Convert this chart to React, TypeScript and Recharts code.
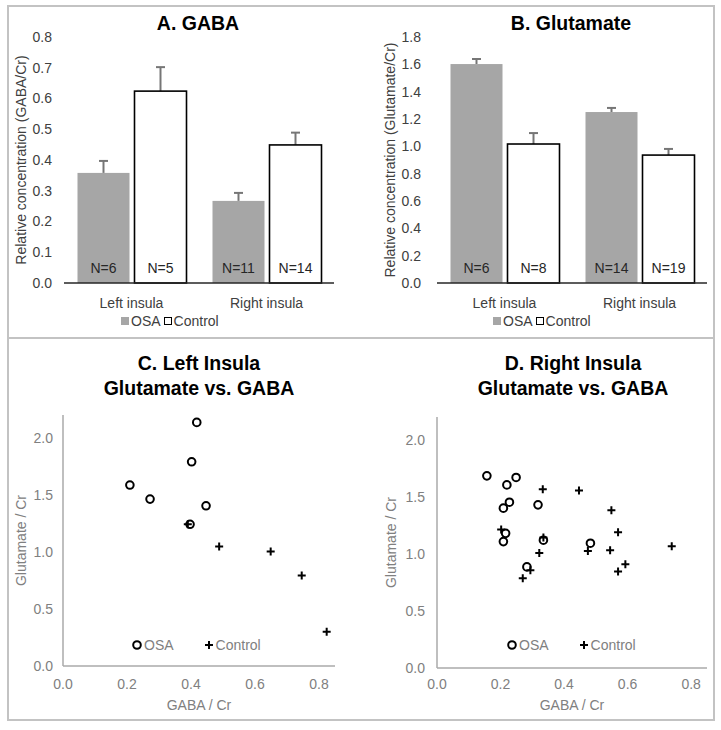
import {
  BarChart,
  Bar,
  XAxis,
  YAxis,
  LabelList,
  Legend,
  ScatterChart,
  Scatter,
} from "recharts";

const FONT = '"Liberation Sans", Arial, Helvetica, sans-serif';
const OSA_GRAY = "#a6a6a6";
const ERR_GRAY = "#767676";
const DARK_TEXT = "#404040";
const LIGHT_TEXT = "#808080";
const FRAME = "#c3c3c3";

// bar charts (A, B)
const regions = ["Left insula", "Right insula"];
const groups = ["OSA", "Control"];

const gabaOsa = [0.358, 0.267];
const gabaOsaErr = [0.039, 0.026];
const gabaOsaN = [6, 11];
const gabaCtl = [0.624, 0.449];
const gabaCtlErr = [0.078, 0.04];
const gabaCtlN = [5, 14];
const gabaTicks = [0, 0.1, 0.2, 0.3, 0.4, 0.5, 0.6, 0.7, 0.8];

const gluOsa = [1.602, 1.251];
const gluOsaErr = [0.037, 0.03];
const gluOsaN = [6, 14];
const gluCtl = [1.017, 0.936];
const gluCtlErr = [0.08, 0.045];
const gluCtlN = [8, 19];
const gluTicks = [0, 0.2, 0.4, 0.6, 0.8, 1.0, 1.2, 1.4, 1.6, 1.8];

// scatter plots (C, D)
const leftOsaGaba = [0.418, 0.402, 0.209, 0.272, 0.447, 0.397];
const leftOsaGlu = [2.135, 1.79, 1.586, 1.463, 1.404, 1.242];
const leftCtlGaba = [0.39, 0.488, 0.649, 0.746, 0.824];
const leftCtlGlu = [1.242, 1.048, 1.004, 0.793, 0.3];

const rightOsaGaba = [0.157, 0.249, 0.22, 0.228, 0.209, 0.318, 0.216, 0.209, 0.335, 0.283, 0.483];
const rightOsaGlu = [1.684, 1.67, 1.605, 1.453, 1.401, 1.43, 1.18, 1.108, 1.12, 0.886, 1.094];
const rightCtlGaba = [0.333, 0.447, 0.549, 0.57, 0.739, 0.202, 0.545, 0.475, 0.322, 0.335, 0.593, 0.57, 0.294, 0.27];
const rightCtlGlu = [1.567, 1.556, 1.383, 1.19, 1.067, 1.213, 1.032, 1.026, 1.009, 1.143, 0.91, 0.845, 0.857, 0.787];

const scatterX = [0, 0.2, 0.4, 0.6, 0.8];
const scatterY = [0, 0.5, 1.0, 1.5, 2.0];

const fmt1 = (v: number) => v.toFixed(1);

const toBars = (osa: number[], osaErr: number[], osaN: number[], ctl: number[], ctlErr: number[], ctlN: number[]) =>
  regions.map((r, i) => ({
    region: r,
    osa: osa[i],
    osaErr: osaErr[i],
    osaN: osaN[i],
    ctl: ctl[i],
    ctlErr: ctlErr[i],
    ctlN: ctlN[i],
  }));

const toPoints = (xs: number[], ys: number[]) => xs.map((x, i) => ({ x, y: ys[i] }));

// legend keeps the series order (recharts sorts by name otherwise)
const ordered = (payload: any[] = []) =>
  [...payload].sort((a, b) => groups.indexOf(a.value) - groups.indexOf(b.value));

// bar with a one-sided (upper) error whisker
const barShape = (fill: string, stroke: string | null, valueKey: string, errKey: string) => (props: any) => {
  const { x, y, width, height, payload } = props;
  const v = payload[valueKey];
  const len = v ? (height / v) * payload[errKey] : 0;
  const cx = x + width / 2;
  return (
    <g>
      <line x1={cx} x2={cx} y1={y} y2={y - len} stroke={ERR_GRAY} strokeWidth={2} />
      <line x1={cx - 4.5} x2={cx + 4.5} y1={y - len} y2={y - len} stroke={ERR_GRAY} strokeWidth={2} />
      <rect
        x={x}
        y={y}
        width={width}
        height={height}
        fill={fill}
        stroke={stroke || "none"}
        strokeWidth={stroke ? 1.6 : 0}
      />
    </g>
  );
};

const circleShape = (props: any) => (
  <circle cx={props.cx} cy={props.cy} r={3.8} fill="none" stroke="#000" strokeWidth={2} />
);

const plusShape = (props: any) => (
  <path
    d={`M${props.cx - 4},${props.cy}H${props.cx + 4}M${props.cx},${props.cy - 4}V${props.cy + 4}`}
    stroke="#000"
    strokeWidth={2}
  />
);

const BarLegend = ({ payload }: any) => (
  <div style={{ display: "flex", alignItems: "center", fontSize: 14, color: DARK_TEXT, fontFamily: FONT }}>
    {ordered(payload).map((p: any) => (
      <span key={p.value} style={{ display: "flex", alignItems: "center", marginRight: 3 }}>
        <span
          style={{
            display: "inline-block",
            width: 8,
            height: 8,
            boxSizing: "border-box",
            background: p.value === "OSA" ? OSA_GRAY : "#fff",
            border: p.value === "OSA" ? "none" : "1.5px solid #000",
            marginRight: 2,
          }}
        />
        {p.value}
      </span>
    ))}
  </div>
);

const ScatterLegend = ({ payload }: any) => (
  <div style={{ display: "flex", alignItems: "center", fontSize: 14, color: LIGHT_TEXT, fontFamily: FONT }}>
    {ordered(payload).map((p: any) => (
      <span key={p.value} style={{ display: "flex", alignItems: "center", marginRight: 30 }}>
        <svg width={10} height={10} style={{ marginRight: 2 }}>
          {p.value === "OSA" ? (
            <circle cx={5} cy={5} r={3.8} fill="none" stroke="#000" strokeWidth={2} />
          ) : (
            <path d="M1,5H9M5,1V9" stroke="#000" strokeWidth={2} />
          )}
        </svg>
        {p.value}
      </span>
    ))}
  </div>
);

function GroupBars(props: {
  data: any[];
  ticks: number[];
  width: number;
  yWidth: number;
  yMargin: number;
  labelDx: number;
  rightMargin: number;
  yLabel: string;
  legendLeft: number;
}) {
  const { data, ticks } = props;
  return (
    <BarChart
      width={props.width}
      height={340}
      data={data}
      margin={{ top: 37, right: props.rightMargin, bottom: 0, left: 0 }}
      barCategoryGap="10%"
      barGap={5}
    >
      <XAxis
        dataKey="region"
        height={57}
        tickLine={false}
        tickMargin={9}
        axisLine={{ stroke: "#262626", strokeWidth: 1.5 }}
        tick={{ fill: DARK_TEXT, fontSize: 14 }}
      />
      <YAxis
        type="number"
        domain={[0, ticks[ticks.length - 1]]}
        ticks={ticks}
        tickFormatter={fmt1}
        width={props.yWidth}
        axisLine={false}
        tickLine={false}
        tickMargin={props.yMargin}
        tick={{ fill: DARK_TEXT, fontSize: 14 }}
        label={{
          value: props.yLabel,
          angle: -90,
          position: "center",
          dx: props.labelDx,
          fill: DARK_TEXT,
          fontSize: 14,
        }}
      />
      <Bar dataKey="osa" name="OSA" isAnimationActive={false} shape={barShape(OSA_GRAY, null, "osa", "osaErr")}>
        <LabelList
          dataKey="osaN"
          position="insideBottom"
          offset={10}
          formatter={(v: any) => `N=${v}`}
          fill="#262626"
          fontSize={14}
        />
      </Bar>
      <Bar dataKey="ctl" name="Control" isAnimationActive={false} shape={barShape("#fff", "#000", "ctl", "ctlErr")}>
        <LabelList
          dataKey="ctlN"
          position="insideBottom"
          offset={10}
          formatter={(v: any) => `N=${v}`}
          fill="#262626"
          fontSize={14}
        />
      </Bar>
      <Legend
        layout="horizontal"
        verticalAlign="middle"
        align="center"
        content={BarLegend}
        wrapperStyle={{ top: 313, left: props.legendLeft, width: "auto" }}
      />
    </BarChart>
  );
}

function GabaGluScatter(props: {
  osa: { x: number; y: number }[];
  ctl: { x: number; y: number }[];
  width: number;
  top: number;
  rightMargin: number;
  yWidth: number;
  yMargin: number;
  xMargin: number;
  xHeight: number;
  labelDx: number;
  legendLeft: number;
}) {
  return (
    <ScatterChart
      width={props.width}
      height={380}
      margin={{ top: props.top, right: props.rightMargin, bottom: 0, left: 0 }}
    >
      <XAxis
        type="number"
        dataKey="x"
        domain={[0, 0.85]}
        ticks={scatterX}
        tickFormatter={fmt1}
        height={props.xHeight}
        tickLine={false}
        tickMargin={props.xMargin}
        axisLine={{ stroke: "#aaaaaa", strokeWidth: 1.5 }}
        tick={{ fill: LIGHT_TEXT, fontSize: 14 }}
        label={{ value: "GABA / Cr", position: "insideBottom", offset: 10, fill: LIGHT_TEXT, fontSize: 14 }}
      />
      <YAxis
        type="number"
        dataKey="y"
        domain={[0, 2.2]}
        ticks={scatterY}
        tickFormatter={fmt1}
        width={props.yWidth}
        tickLine={false}
        tickMargin={props.yMargin}
        axisLine={{ stroke: "#aaaaaa", strokeWidth: 1.5 }}
        tick={{ fill: LIGHT_TEXT, fontSize: 14 }}
        label={{
          value: "Glutamate / Cr",
          angle: -90,
          position: "center",
          dx: props.labelDx,
          fill: LIGHT_TEXT,
          fontSize: 14,
        }}
      />
      <Scatter name="OSA" data={props.osa} shape={circleShape} isAnimationActive={false} />
      <Scatter name="Control" data={props.ctl} shape={plusShape} isAnimationActive={false} />
      <Legend
        layout="horizontal"
        verticalAlign="middle"
        align="center"
        content={ScatterLegend}
        wrapperStyle={{ top: 297, left: props.legendLeft, width: "auto" }}
      />
    </ScatterChart>
  );
}

const titleStyle = (cx: number, top: number, size: number): any => ({
  position: "absolute",
  left: cx - 160,
  width: 320,
  top,
  textAlign: "center",
  fontSize: size,
  lineHeight: "25px",
  fontWeight: "bold",
  color: "#000",
});

export default function App() {
  return (
    <div
      style={{
        position: "absolute",
        left: 0,
        top: 0,
        width: 721,
        height: 730,
        background: "#fff",
        fontFamily: FONT,
      }}
    >
      <div
        style={{
          position: "absolute",
          left: 7,
          top: 5,
          width: 708,
          height: 716,
          border: `2px solid ${FRAME}`,
          boxSizing: "border-box",
        }}
      />
      <div style={{ position: "absolute", left: 7, top: 337, width: 708, height: 2, background: FRAME }} />

      <div style={{ position: "absolute", left: 0, top: 0 }}>
        <GroupBars
          data={toBars(gabaOsa, gabaOsaErr, gabaOsaN, gabaCtl, gabaCtlErr, gabaCtlN)}
          ticks={gabaTicks}
          width={360}
          yWidth={64}
          yMargin={6}
          labelDx={-11}
          rightMargin={26}
          yLabel="Relative concentration (GABA/Cr)"
          legendLeft={121}
        />
      </div>
      <div style={{ position: "absolute", left: 360, top: 0 }}>
        <GroupBars
          data={toBars(gluOsa, gluOsaErr, gluOsaN, gluCtl, gluCtlErr, gluCtlN)}
          ticks={gluTicks}
          width={361}
          yWidth={77}
          yMargin={10}
          labelDx={-8}
          rightMargin={14}
          yLabel="Relative concentration (Glutamate/Cr)"
          legendLeft={133}
        />
      </div>
      <div style={{ position: "absolute", left: 0, top: 340 }}>
        <GabaGluScatter
          osa={toPoints(leftOsaGaba, leftOsaGlu)}
          ctl={toPoints(leftCtlGaba, leftCtlGlu)}
          width={360}
          top={75}
          rightMargin={25}
          yWidth={63}
          yMargin={4}
          xMargin={7}
          xHeight={54}
          labelDx={-10}
          legendLeft={132}
        />
      </div>
      <div style={{ position: "absolute", left: 360, top: 340 }}>
        <GabaGluScatter
          osa={toPoints(rightOsaGaba, rightOsaGlu)}
          ctl={toPoints(rightCtlGaba, rightCtlGlu)}
          width={361}
          top={77}
          rightMargin={14}
          yWidth={77}
          yMargin={6}
          xMargin={5}
          xHeight={52}
          labelDx={-7}
          legendLeft={147}
        />
      </div>

      <div style={titleStyle(198, 11, 19.5)}>A. GABA</div>
      <div style={titleStyle(571, 11, 19.5)}>B. Glutamate</div>
      <div style={titleStyle(199, 351, 19.5)}>
        C. Left Insula
        <br />
        Glutamate vs. GABA
      </div>
      <div style={titleStyle(573, 351, 19.5)}>
        D. Right Insula
        <br />
        Glutamate vs. GABA
      </div>
    </div>
  );
}
